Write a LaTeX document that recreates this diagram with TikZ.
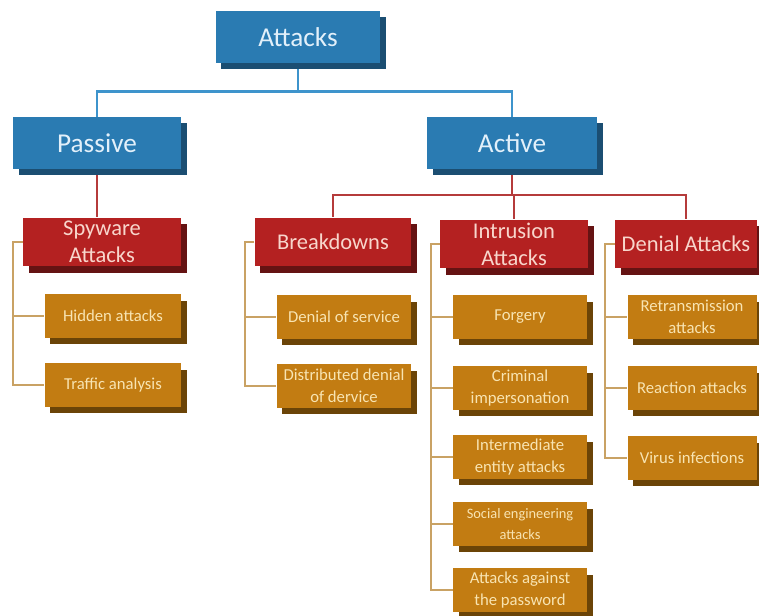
\documentclass[tikz,border=0pt]{standalone}
\usepackage{fontspec}
\setmainfont{Carlito}
\usetikzlibrary{shadows, backgrounds}
\definecolor{rootfill}{HTML}{2A7BB2}
\definecolor{rootdark}{HTML}{1B4E72}
\definecolor{roottext}{HTML}{E2F0FA}
\definecolor{rootline}{HTML}{3E94CC}
\definecolor{catfill}{HTML}{B42121}
\definecolor{catdark}{HTML}{651313}
\definecolor{cattext}{HTML}{F8D6CC}
\definecolor{catline}{HTML}{B53B3B}
\definecolor{leaffill}{HTML}{C27C12}
\definecolor{leafdark}{HTML}{6B4407}
\definecolor{leaftext}{HTML}{F8E4B2}
\definecolor{leafline}{HTML}{C9A264}
\tikzset{box/.style = {shape=rectangle, inner sep=1pt, align=center,
  general shadow={shadow xshift=3.3pt, shadow yshift=-3.6pt, fill=#1}}}
\tikzset{rootbox/.style = {box=rootdark, fill=rootfill, text=roottext,
  font=\fontsize{15.5}{18}\selectfont, minimum height=1.04cm}}
\tikzset{catbox/.style = {box=catdark, fill=catfill, text=cattext,
  font=\fontsize{12.8}{15.3}\selectfont, minimum height=0.98cm}}
\tikzset{leafbox/.style = {box=leafdark, fill=leaffill, text=leaftext,
  font=\fontsize{9.5}{12.5}\selectfont, minimum height=0.87cm}}
\tikzset{rootedge/.style = {draw=rootline, line width=1.4pt}}
\tikzset{catedge/.style = {draw=catline, line width=1.2pt}}
\tikzset{leafedge/.style = {draw=leafline, line width=1pt}}

\begin{document}
\begin{tikzpicture}[x=0.02cm, y=-0.02cm]
        \useasboundingbox (0,0) rectangle (759,615);
        \node[rootbox, minimum width=3.3cm] (attacks) at (298,37) {Attacks};
        \node[rootbox, minimum width=3.36cm] (passive) at (97,143) {Passive};
        \node[rootbox, minimum width=3.4cm] (active) at (512,143) {Active};
        % second level
        \node[catbox, minimum width=3.16cm] (spy) at (102,242) {Spyware\\Attacks};
        \node[catbox, minimum width=3.14cm] (brk) at (333,242) {Breakdowns};
        \node[catbox, minimum width=2.96cm] (intr) at (514,244) {Intrusion\\Attacks};
        \node[catbox, minimum width=2.84cm] (den) at (686,244) {Denial Attacks};
        % leaves
        \node[leafbox, minimum width=2.74cm] (hid) at (113,316) {Hidden attacks};
        \node[leafbox, minimum width=2.74cm] (traf) at (113,385) {Traffic analysis};
        \node[leafbox, minimum width=2.7cm] (dos) at (344,317) {Denial of service};
        \node[leafbox, minimum width=2.7cm] (ddos) at (344,386) {Distributed denial\\of dervice};
        \node[leafbox, minimum width=2.68cm] (forg) at (520,317) {Forgery};
        \node[leafbox, minimum width=2.68cm] (crim) at (520,388) {Criminal\\impersonation};
        \node[leafbox, minimum width=2.68cm] (inter) at (520,457) {Intermediate\\entity attacks};
        \node[leafbox, minimum width=2.68cm, font=\fontsize{8.2}{11.5}\selectfont] (soc) at (520,524) {Social engineering\\attacks};
        \node[leafbox, minimum width=2.68cm] (pass) at (520,590) {Attacks against\\the password};
        \node[leafbox, minimum width=2.58cm] (retr) at (692,317) {Retransmission\\attacks};
        \node[leafbox, minimum width=2.58cm] (reac) at (692,388) {Reaction attacks};
        \node[leafbox, minimum width=2.58cm] (vir) at (692,458) {Virus infections};
        \begin{scope}[on background layer]
        \draw[rootedge] (attacks.south) -- ++(0,28) coordinate (aj);
        \draw[rootedge] (aj) -| (passive.north);
        \draw[rootedge] (aj) -| (active.north);
        \draw[catedge] (passive.south) -- (passive.south |- spy.north);
        \draw[catedge] (active.south) -- ++(0,26) coordinate (bj);
        \draw[catedge] (bj) -| (brk.north);
        \draw[catedge] (bj) -| (intr.north);
        \draw[catedge] (bj) -| (den.north);
        % brackets
        \draw[leafedge] (spy.west) -- ++(-10,0) coordinate (s1) |- (hid.west);
        \draw[leafedge] (s1) |- (traf.west);
        \draw[leafedge] (brk.west) -- ++(-9,0) coordinate (b1) |- (dos.west);
        \draw[leafedge] (b1) |- (ddos.west);
        \draw[leafedge] (intr.west) -- ++(-9,0) coordinate (i1) |- (forg.west);
        \draw[leafedge] (i1) |- (crim.west);
        \draw[leafedge] (i1) |- (inter.west);
        \draw[leafedge] (i1) |- (soc.west);
        \draw[leafedge] (i1) |- (pass.west);
        \draw[leafedge] (den.west) -- ++(-10,0) coordinate (d1) |- (retr.west);
        \draw[leafedge] (d1) |- (reac.west);
        \draw[leafedge] (d1) |- (vir.west);
        \end{scope}
    \end{tikzpicture}
\end{document}
